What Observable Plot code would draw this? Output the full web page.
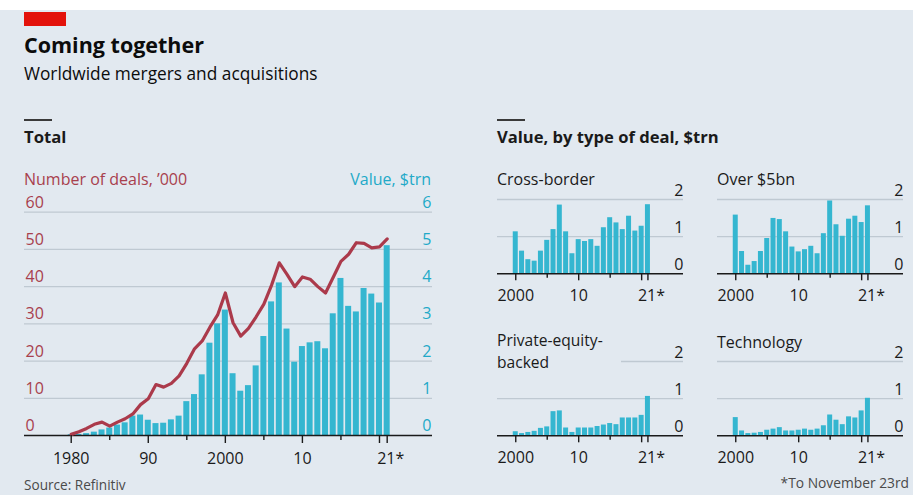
<!DOCTYPE html>
<html><head><meta charset="utf-8">
<script src="https://cdn.jsdelivr.net/npm/d3@7"></script>
<script src="https://cdn.jsdelivr.net/npm/@observablehq/plot@0.6"></script>
<style>
body{margin:0;background:#fff;font-family:"Open Sans",sans-serif;}
#root{position:relative;width:922px;height:495px;overflow:hidden;background:#fff;}
#bg{position:absolute;left:0;top:10px;width:913px;height:485px;background:#e2e9f0;}
.t{position:absolute;white-space:nowrap;line-height:1;}
.chart{position:absolute;}
</style></head>
<body><div id="root"><div id="bg"></div></div>
<script>
// ---------- data ----------
const years = [1980,1981,1982,1983,1984,1985,1986,1987,1988,1989,1990,1991,1992,1993,1994,1995,1996,1997,1998,1999,2000,2001,2002,2003,2004,2005,2006,2007,2008,2009,2010,2011,2012,2013,2014,2015,2016,2017,2018,2019,2020,2021];
const dealsThousands = [0.3,1.0,1.9,3.0,3.6,2.5,3.6,4.5,5.8,8.3,9.9,13.7,13.0,14.0,16.0,19.4,23.3,25.4,29.1,32.4,38.3,30.3,26.7,28.8,31.9,35.3,40.4,46.4,43.3,40.0,42.6,42.0,40.0,38.3,42.5,46.8,48.7,51.8,51.6,50.4,50.7,52.8];
const valueTrn = [0.02,0.03,0.05,0.09,0.15,0.2,0.28,0.34,0.52,0.55,0.41,0.32,0.33,0.42,0.52,0.91,1.1,1.63,2.48,3.0,3.37,1.66,1.19,1.34,1.87,2.66,3.59,4.1,2.86,1.97,2.39,2.49,2.52,2.33,3.27,4.22,3.47,3.32,3.95,3.8,3.56,5.1];
const dealTicks = [0,10,20,30,40,50,60];
const valueTicks = [0,1,2,3,4,5,6];
const mainLabelYears = [1980,1990,2000,2010];
const mainLabels = ["1980","90","2000","10"];
const mainLongTicks = [1980,1990,2000,2010,2020,2021];
const mainShortTicks = [1985,1995,2005,2015];

const panelYears = [2000,2001,2002,2003,2004,2005,2006,2007,2008,2009,2010,2011,2012,2013,2014,2015,2016,2017,2018,2019,2020,2021];
const crossBorder = [1.13,0.61,0.38,0.34,0.61,0.9,1.19,1.85,1.13,0.54,0.92,0.87,0.92,0.74,1.24,1.51,1.37,1.19,1.55,1.15,1.28,1.86];
const over5bn = [1.58,0.6,0.23,0.33,0.6,0.95,1.49,1.46,1.13,0.72,0.59,0.65,0.74,0.54,1.08,1.96,1.32,1.01,1.47,1.55,1.38,1.83];
const privateEquity = [0.11,0.06,0.09,0.12,0.2,0.24,0.65,0.67,0.21,0.09,0.21,0.21,0.21,0.25,0.29,0.33,0.3,0.48,0.48,0.48,0.55,1.06];
const technology = [0.49,0.13,0.06,0.07,0.09,0.15,0.18,0.22,0.13,0.13,0.15,0.18,0.15,0.18,0.27,0.56,0.42,0.3,0.51,0.48,0.67,1.01];
const panelTicks = [0,1,2];
const panelLabelYears = [2000,2010];
const panelLabels = ["2000","10"];
const panelLongTicks = [2000,2010,2020,2021];
const panelShortTicks = [2005,2015];

// ---------- style ----------
const RED = "#ab3a4b", REDTXT = "#a8404d", CYAN = "#35b6d0", CYANTXT = "#22a9c8";
const GRID = "#bfc9d2", INK = "#1a1a1a", FONT = "Open Sans", BG = "#e2e9f0";
const root = document.getElementById("root");

function txt(s, {x, base, size = 16, weight = 400, color = INK, anchor = "start"}) {
  const d = document.createElement("div");
  d.className = "t";
  d.textContent = s;
  d.style.fontSize = size + "px";
  d.style.fontWeight = weight;
  d.style.color = color;
  d.style.top = (base - 0.888 * size) + "px";
  if (anchor === "end") d.style.right = (922 - x) + "px"; else d.style.left = x + "px";
  root.appendChild(d);
  return d;
}
function box(left, top, w, h, color) {
  const b = document.createElement("div");
  b.style.cssText = `position:absolute;left:${left}px;top:${top}px;width:${w}px;height:${h}px;background:${color};`;
  root.appendChild(b);
}
function place(svg, left, top) {
  svg.classList.add("chart");
  svg.style.left = left + "px";
  svg.style.top = top + "px";
  root.appendChild(svg);
}

// ---------- header ----------
box(24, 12, 42, 14, "#e3120b");
txt("Coming together", {x: 24, base: 53, size: 21.5, weight: 700, color: "#0c0c0c"});
txt("Worldwide mergers and acquisitions", {x: 24, base: 80, size: 17.3, color: "#0c0c0c"});
box(24, 119, 28, 2, "#3a3a3a");
box(497, 119, 28, 2, "#3a3a3a");
txt("Total", {x: 24, base: 144, size: 16.7, weight: 700});
txt("Value, by type of deal, $trn", {x: 497, base: 144, size: 16.6, weight: 700});
txt("Number of deals, ’000", {x: 24, base: 185, size: 16, color: REDTXT});
txt("Value, $trn", {x: 431, base: 185, size: 16, color: CYANTXT, anchor: "end"});

// ---------- main chart ----------
const deals = years.map((y, i) => ({year: y, v: dealsThousands[i]}));
const vals = years.map((y, i) => ({year: y, v: valueTrn[i]}));
const mainTop = 180, mainH = 290;
const mainSvg = Plot.plot({
  width: 460, height: mainH,
  marginLeft: 24, marginRight: 28, marginTop: 211.7 - mainTop, marginBottom: mainTop + mainH - 435,
  style: {background: "transparent", overflow: "visible", fontFamily: FONT, color: INK},
  x: {domain: [1973.94, 2026.88], label: null},
  y: {domain: [0, 60], axis: null},
  marks: [
    Plot.ruleY(dealTicks.filter(d => d > 0), {stroke: GRID, strokeWidth: 1.3}),
    Plot.rectY(vals, {x1: d => d.year - 0.5, x2: d => d.year + 0.5, y1: 0, y2: d => d.v * 10, insetLeft: 0.85, insetRight: 0.85, fill: CYAN}),
    Plot.ruleY([0], {stroke: INK, strokeWidth: 1.4}),
    Plot.line(deals, {x: "year", y: "v", stroke: RED, strokeWidth: 3.2, strokeLinejoin: "round"}),
    Plot.axisX(mainLongTicks, {tickSize: 8, tickFormat: () => "", stroke: INK, strokeWidth: 1.4, label: null}),
    Plot.axisX(mainShortTicks, {tickSize: 5, tickFormat: () => "", stroke: INK, strokeWidth: 1.4, label: null}),
    Plot.text(dealTicks, {y: d => d, text: d => String(d), frameAnchor: "left", textAnchor: "start", lineAnchor: "bottom", dx: 1, dy: -4.4, fill: REDTXT, fontSize: 16}),
    Plot.text(valueTicks, {y: d => d * 10, text: d => String(d), frameAnchor: "right", textAnchor: "end", lineAnchor: "bottom", dx: -1, dy: -4.4, fill: CYANTXT, fontSize: 16}),
    Plot.text(mainLabelYears, {x: d => d, text: (d, i) => mainLabels[i], frameAnchor: "bottom", lineAnchor: "bottom", dy: 28.5, fill: INK, fontSize: 16}),
    Plot.text([2021], {x: d => d, text: () => "21*", frameAnchor: "bottom", lineAnchor: "bottom", dx: 3.5, dy: 28.5, fill: INK, fontSize: 16})
  ]
});
place(mainSvg, 0, mainTop);

// ---------- small multiples ----------
function panel(series) {
  const data = panelYears.map((y, i) => ({year: y, v: series[i]}));
  return Plot.plot({
    width: 200, height: 135,
    marginLeft: 7, marginRight: 7, marginTop: 29, marginBottom: 31.7,
    style: {background: "transparent", overflow: "visible", fontFamily: FONT, color: INK},
    x: {domain: [1997.1, 2026.65], label: null},
    y: {domain: [0, 2], axis: null},
    marks: [
      Plot.ruleY(panelTicks.filter(d => d > 0), {stroke: GRID, strokeWidth: 1.3}),
      Plot.rectY(data, {x1: d => d.year - 0.5, x2: d => d.year + 0.5, y1: 0, y2: "v", insetLeft: 0.65, insetRight: 0.65, fill: CYAN}),
      Plot.ruleY([0], {stroke: INK, strokeWidth: 1.4}),
      Plot.axisX(panelLongTicks, {tickSize: 7, tickFormat: () => "", stroke: INK, strokeWidth: 1.4, label: null}),
      Plot.axisX(panelShortTicks, {tickSize: 4.5, tickFormat: () => "", stroke: INK, strokeWidth: 1.4, label: null}),
      Plot.text(panelTicks, {y: d => d, text: d => String(d), frameAnchor: "right", textAnchor: "end", lineAnchor: "bottom", dy: -4, fill: INK, fontSize: 16}),
      Plot.text(panelLabelYears, {x: d => d, text: (d, i) => panelLabels[i], frameAnchor: "bottom", lineAnchor: "bottom", dy: 26.7, fill: INK, fontSize: 16}),
      Plot.text([2021], {x: d => d, text: () => "21*", frameAnchor: "bottom", lineAnchor: "bottom", dx: 3.5, dy: 26.7, fill: INK, fontSize: 16})
    ]
  });
}
place(panel(crossBorder), 490, 170);
place(panel(over5bn), 710, 170);
place(panel(privateEquity), 490, 331.7);
place(panel(technology), 710, 331.7);

txt("Cross-border", {x: 497, base: 185});
txt("Over $5bn", {x: 717, base: 185});
// background patch behind the two-line title (the "2" gridline stops short of it)
box(490, 332, 131, 40, BG);
txt("Private-equity-", {x: 497, base: 347, size: 15.6});
txt("backed", {x: 497, base: 368.5, size: 15.6});
txt("Technology", {x: 717, base: 348.3});

// ---------- footer ----------
txt("Source: Refinitiv", {x: 24, base: 490.5, size: 13.6, color: "#4a4a4a"});
txt("*To November 23rd", {x: 909, base: 488.5, size: 13.8, color: "#4a4a4a", anchor: "end"});
</script></body></html>
